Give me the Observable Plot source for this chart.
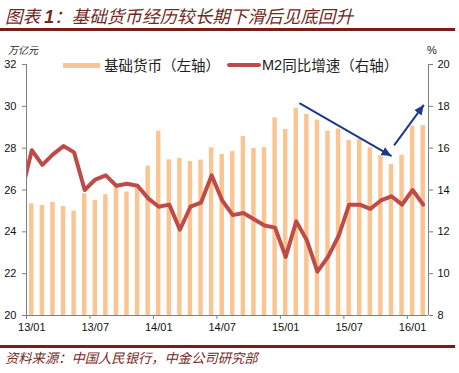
<!DOCTYPE html>
<html><head><meta charset="utf-8">
<script src="https://cdn.jsdelivr.net/npm/d3@7"></script>
<script src="https://cdn.jsdelivr.net/npm/@observablehq/plot@0.6"></script>
<style>
body{margin:0;background:#fff;}
#wrap{position:relative;width:459px;height:373px;overflow:hidden;font-family:"Noto Sans CJK SC",sans-serif;}
#chart{position:absolute;left:0;top:0;}
.ov{position:absolute;z-index:2;white-space:nowrap;}
#title{left:5px;top:6px;font-size:17.6px;line-height:20px;font-style:italic;color:#72291e;}
#title b{font-family:"Liberation Sans",Arial,sans-serif;}
.rule{position:absolute;left:0;width:455px;height:3px;background:#7a1c1c;z-index:2;}
#unitL{left:8px;top:43px;font-size:10px;line-height:14px;font-style:italic;color:#222;}
#unitR{left:427px;top:43px;font-size:11px;line-height:14px;font-family:"Liberation Sans",Arial,sans-serif;color:#222;}
#legend{left:63px;top:55px;height:20px;display:flex;align-items:center;font-size:14.5px;line-height:20px;color:#222;}
#legend .sw{display:inline-block;}
#source{left:5px;top:350px;font-size:13.3px;line-height:16px;font-style:italic;color:#7a2a1e;}
</style></head><body>
<div id="wrap">
  <div id="chart"></div>
  <div id="title" class="ov">图表 <b>1</b>：基础货币经历较长期下滑后见底回升</div>
  <div class="rule" style="top:28px"></div>
  <div id="unitL" class="ov">万亿元</div>
  <div id="unitR" class="ov">%</div>
  <div id="legend" class="ov"></div>
  <div class="rule" style="top:345px"></div>
  <div id="source" class="ov">资料来源：中国人民银行，中金公司研究部</div>
</div>
<script>
// ---- data ----
const months = ["13/01","13/02","13/03","13/04","13/05","13/06","13/07","13/08","13/09","13/10","13/11","13/12",
  "14/01","14/02","14/03","14/04","14/05","14/06","14/07","14/08","14/09","14/10","14/11","14/12",
  "15/01","15/02","15/03","15/04","15/05","15/06","15/07","15/08","15/09","15/10","15/11","15/12",
  "16/01","16/02"];
const baseMoney = [25.34,25.26,25.40,25.21,24.99,25.82,25.50,25.77,26.25,25.90,26.10,27.14,
  28.81,27.44,27.51,27.36,27.43,28.02,27.70,27.84,28.56,27.98,28.03,29.45,
  28.89,29.90,29.61,29.34,28.81,28.91,28.37,28.43,28.02,27.64,27.21,27.66,
  29.05,29.08];
const m2Months = ["12/12", ...months];
const m2Growth = [13.8,
  15.9,15.2,15.7,16.1,15.8,14.0,14.5,14.7,14.2,14.3,14.2,13.6,
  13.2,13.3,12.1,13.2,13.4,14.7,13.5,12.8,12.9,12.6,12.3,12.2,
  10.8,12.5,11.6,10.1,10.8,11.8,13.3,13.3,13.1,13.5,13.7,13.3,
  14.0,13.3];
const leftTicks = [20,22,24,26,28,30,32];
const rightTicks = [8,10,12,14,16,18,20];
const xLabels = ["13/01","13/07","14/01","14/07","15/01","15/07","16/01"];
const seriesNames = ["基础货币（左轴）","M2同比增速（右轴）"];
// arrows: category position (month index) and left-axis value
const arrowFromMonth = [25.3, 34.25];
const arrowFromValue = [30.15, 28.13];
const arrowToMonth = [34.0, 37.06];
const arrowToValue = [27.62, 30.07];

// ---- build ----
const barColor = "#fbc493", lineColor = "#be4b48", arrowColor = "#1a3a8f", axisColor = "#7f7f7f";
const offset = 20 - 8; // right axis (8–20) mapped onto left axis (20–32)
const bars = months.map((m, i) => ({i, v: baseMoney[i]}));
const m2 = m2Months.map((m, k) => ({i: k - 1, v: m2Growth[k] + offset}));
const arrows = arrowFromMonth.map((d, k) => ({x1: d, y1: arrowFromValue[k], x2: arrowToMonth[k], y2: arrowToValue[k]}));
const bounds = xLabels.map(l => months.indexOf(l) - 0.5);
const labelIdx = xLabels.map(l => months.indexOf(l));

const filledArrow = (color) => {
  const m = d3.create("svg:marker")
    .attr("viewBox", "-10 -5 10 10")
    .attr("markerWidth", 5).attr("markerHeight", 5)
    .attr("orient", "auto").attr("markerUnits", "strokeWidth")
    .attr("fill", color).attr("stroke", "none");
  m.append("path").attr("d", "M-10,-4.5L0,0L-10,4.5Z");
  return m.node();
};

const chart = Plot.plot({
  width: 459, height: 373,
  marginLeft: 26, marginRight: 31, marginTop: 64, marginBottom: 58,
  style: {fontFamily: "'Liberation Sans', Arial, sans-serif", fontSize: "11px", background: "transparent"},
  x: {type: "linear", domain: [-0.5, months.length - 0.5], axis: null},
  y: {domain: [20, 32], axis: null},
  marks: [
    Plot.rectY(bars, {x1: d => d.i - 0.21, x2: d => d.i + 0.21, y1: 20, y2: "v", fill: barColor}),
    Plot.line(m2, {x: "i", y: "v", stroke: lineColor, strokeWidth: 4, clip: true, strokeLinejoin: "round"}),
    Plot.link(arrows, {x1: "x1", y1: "y1", x2: "x2", y2: "y2", stroke: arrowColor, strokeWidth: 2, markerEnd: filledArrow}),
    Plot.ruleX([-0.5], {stroke: axisColor}),
    Plot.ruleX([months.length - 0.5], {stroke: axisColor}),
    Plot.ruleY([20], {stroke: axisColor}),
    Plot.axisY(leftTicks, {anchor: "left", tickSize: 4, tickPadding: 6, stroke: axisColor, fill: "#111", fontSize: 11}),
    Plot.axisY(rightTicks.map(t => t + offset), {anchor: "right", tickSize: 4, tickPadding: 5, stroke: axisColor, fill: "#111", fontSize: 11, tickFormat: d => String(d - offset)}),
    Plot.axisX(bounds, {anchor: "bottom", tickSize: 4, stroke: axisColor, tickFormat: () => ""}),
    Plot.axisX(labelIdx, {anchor: "bottom", tickSize: 0, tickPadding: 8, fill: "#111", fontSize: 11, tickFormat: i => months[i]})
  ]
});
document.getElementById("chart").appendChild(chart);

// legend
const lg = document.getElementById("legend");
lg.innerHTML =
  `<span class="sw" style="width:37px;height:5px;background:${barColor};margin-right:4px"></span>` +
  `<span>${seriesNames[0]}</span>` +
  `<span class="sw" style="width:34px;height:4px;background:${lineColor};margin-left:7px;margin-right:1px;border-radius:2px"></span>` +
  `<span style="font-family:'Liberation Sans',Arial,sans-serif">M2</span><span>${seriesNames[1].slice(2)}</span>`;
</script>
</body></html>
